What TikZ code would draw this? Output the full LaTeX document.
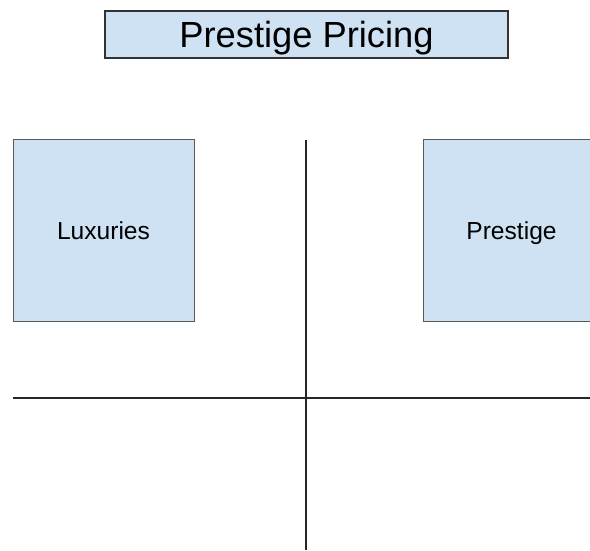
\documentclass[tikz,border=0pt]{standalone}
\usepackage{fontspec}
\setmainfont{Liberation Sans}
\definecolor{boxblue}{HTML}{CFE2F3}

\begin{document}
\begin{tikzpicture}[
    x=0.03cm, y=-0.03cm,
    heading/.style={rectangle, draw=black!80, line width=0.9pt, fill=boxblue, inner sep=0pt, minimum width=12.09cm, minimum height=1.41cm, text height=23pt, text depth=0pt, font=\fontsize{31}{36}\selectfont},
    quadrant/.style={rectangle, draw=black!65, line width=0.8pt, fill=boxblue, inner sep=0pt, minimum height=5.46cm, text height=17pt, text depth=0pt, font=\fontsize{21}{25}\selectfont},
    axis/.style={line width=1.1pt, black!85}
]
\useasboundingbox (0,0) rectangle (590,550);
\clip (0,0) rectangle (590,550);

% Title
\node[heading] (title) at (306.5,34.5) {Prestige Pricing};

% Quadrant boxes
\node[quadrant, minimum width=5.43cm] (luxuries) at (103.5,230) {Luxuries};
\node[quadrant, minimum width=5.31cm] (prestige) at (511.5,230) {Prestige};

% Axes
\coordinate (vtop) at (306,140);
\coordinate (vbot) at (306,550);
\coordinate (hleft) at (13,398);
\coordinate (hright) at (590,398);
\draw[axis] (vtop) -- (vbot);
\draw[axis] (hleft) -- (hright);

\end{tikzpicture}
\end{document}
